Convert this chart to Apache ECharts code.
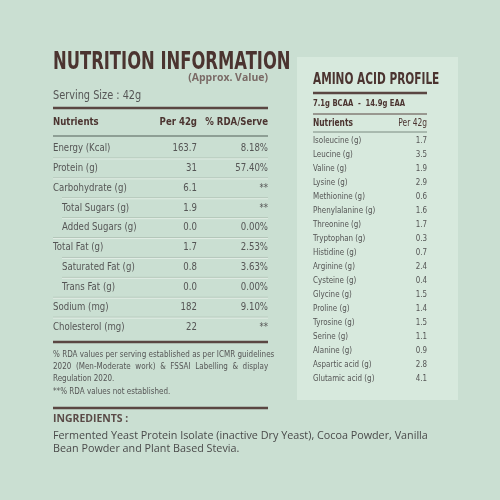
<!DOCTYPE html>
<html><head><meta charset="utf-8">
<script src="https://cdn.jsdelivr.net/npm/echarts@6/dist/echarts.min.js"></script>
<style>html,body{margin:0;padding:0;background:#cadfd2}#c{width:500px;height:500px}</style>
</head><body><div id="c"></div>
<script>
const nutrients = ["Energy (Kcal)","Protein (g)","Carbohydrate (g)","Total Sugars (g)","Added Sugars (g)","Total Fat (g)","Saturated Fat (g)","Trans Fat (g)","Sodium (mg)","Cholesterol (mg)"];
const indented = [false,false,false,true,true,false,true,true,false,false];
const per42 = ["163.7","31","6.1","1.9","0.0","1.7","0.8","0.0","182","22"];
const rda = ["8.18%","57.40%","**","**","0.00%","2.53%","3.63%","0.00%","9.10%","**"];
const aminoNames = ["Isoleucine (g)","Leucine (g)","Valine (g)","Lysine (g)","Methionine (g)","Phenylalanine (g)","Threonine (g)","Tryptophan (g)","Histidine (g)","Arginine (g)","Cysteine (g)","Glycine (g)","Proline (g)","Tyrosine (g)","Serine (g)","Alanine (g)","Aspartic acid (g)","Glutamic acid (g)"];
const aminoVals = ["1.7","3.5","1.9","2.9","0.6","1.6","1.7","0.3","0.7","2.4","0.4","1.5","1.4","1.5","1.1","0.9","2.8","4.1"];

const NF = '"DejaVu Sans",sans-serif';
const brown = '#4b3430', gray = '#555';
const g = [];
function t(x,y,s,o,sx){g.push({type:'text',x,y,scaleX:sx===undefined?0.78:sx,style:Object.assign({text:s,fill:gray,font:'12px '+NF,textVerticalAlign:'middle'},o||{})});}
function ln(x1,y1,x2,y2,w,c){g.push({type:'line',shape:{x1,y1,x2,y2},style:{stroke:c||'#a9bdb0',lineWidth:w||1}});}

g.push({type:'rect',shape:{x:297,y:57,width:161,height:343},style:{fill:'#d7e9dd'}});

t(53,62,'NUTRITION INFORMATION',{font:'bold 25px '+NF,fill:brown},0.655);
t(268,78,'(Approx. Value)',{font:'bold 11px "Open Sans",sans-serif',fill:'#7a6a66',textAlign:'right'},0.95);
t(53,96,'Serving Size : 42g',{font:'13px '+NF,fill:'#555'},0.75);
ln(53,108,268,108,2.5,'#5a4642');
t(53,122,'Nutrients',{font:'bold 11px '+NF,fill:brown});
t(197,122,'Per 42g',{font:'bold 11px '+NF,fill:brown,textAlign:'right'});
t(268,122,'% RDA/Serve',{font:'bold 11px '+NF,fill:brown,textAlign:'right'});
ln(53,136,268,136,1.5,'#7a8a80');
const y0=148, dy=19.9;
nutrients.forEach((n,i)=>{
  const y=y0+i*dy, x=indented[i]?62:53;
  t(x,y,n,{font:'11px '+NF});
  t(197,y,per42[i],{textAlign:'right',font:'11px '+NF});
  t(268,y,rda[i],{textAlign:'right',font:'11px '+NF});
  if(i<nutrients.length-1){ const nx=indented[i+1]?62:53; ln(nx,y+dy/2,268,y+dy/2,1,'#b3c6b9'); ln(nx,y+dy/2+1,268,y+dy/2+1,1,'#e2ede5');}
});
ln(53,342,268,342,2.5,'#5a4642');
t(53,355,'% RDA values per serving established as per ICMR guidelines',{font:'9px '+NF},0.8);
t(53,367,'2020  (Men-Moderate  work)  &  FSSAI  Labelling  &  display',{font:'9px '+NF},0.8);
t(53,379,'Regulation 2020.',{font:'9px '+NF},0.8);
t(53,392,'**% RDA values not established.',{font:'9px '+NF},0.8);
ln(53,408,268,408,2.5,'#5a4642');
t(53,419,'INGREDIENTS :',{font:'bold 11px "Open Sans",sans-serif',fill:'#5a4a47'},0.95);
t(53,436,'Fermented Yeast Protein Isolate (inactive Dry Yeast), Cocoa Powder, Vanilla',{font:'11px "Open Sans",sans-serif',fill:'#4a4a4a'},0.98);
t(53,449,'Bean Powder and Plant Based Stevia.',{font:'11px "Open Sans",sans-serif',fill:'#4a4a4a'},0.98);

t(313,80,'AMINO ACID PROFILE',{font:'bold 16px '+NF,fill:brown},0.66);
ln(313,93,427,93,2.5,'#5a4642');
t(313,104,'7.1g BCAA  -  14.9g EAA',{font:'bold 9.5px '+NF,fill:brown},0.72);
ln(313,114,427,114,1,'#5a4642');
t(313,123,'Nutrients',{font:'bold 10px '+NF,fill:brown},0.75);
t(427,123,'Per 42g',{font:'10px '+NF,fill:brown,textAlign:'right'},0.75);
ln(313,132,427,132,1,'#7a8a80');
aminoNames.forEach((n,i)=>{
  const y=141+i*14;
  t(313,y,n,{font:'9.5px '+NF},0.75);
  t(427,y,aminoVals[i],{font:'9.5px '+NF,textAlign:'right'},0.75);
});

const ch=echarts.init(document.getElementById('c'));
ch.setOption({backgroundColor:'#cadfd2',graphic:{elements:g}});
</script></body></html>
